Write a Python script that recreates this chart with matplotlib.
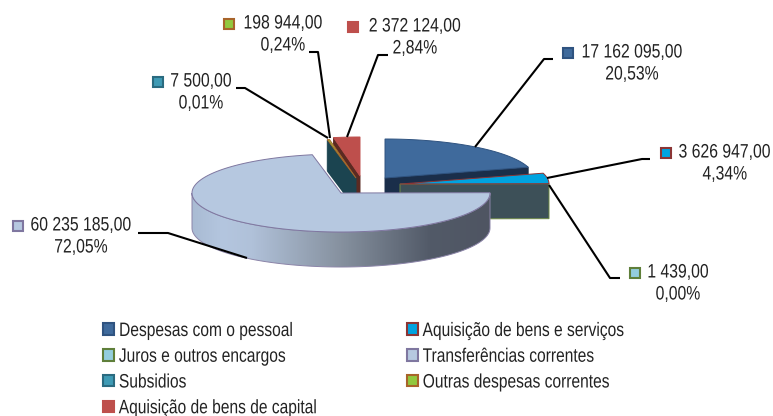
import numpy as np
import matplotlib
matplotlib.use("Agg")
import matplotlib.pyplot as plt
from matplotlib.colors import LinearSegmentedColormap
from matplotlib.patches import Patch, Polygon, Rectangle
from matplotlib.patheffects import AbstractPathEffect
from matplotlib.transforms import Affine2D

# dados do grafico
categorias = ["Despesas com o pessoal", "Aquisição de bens e serviços", "Juros e outros encargos",
              "Transferências correntes", "Subsidios", "Outras despesas correntes",
              "Aquisição de bens de capital"]
valores = [17162095, 3626947, 1439, 60235185, 7500, 198944, 2372124]
rotulos_valor = ["17 162 095,00", "3 626 947,00", "1 439,00", "60 235 185,00",
                 "7 500,00", "198 944,00", "2 372 124,00"]
rotulos_pct = ["20,53%", "4,34%", "0,00%", "72,05%", "0,01%", "0,24%", "2,84%"]

# cores
cor_face = ["#3F6A9C", "#00A3E0", "#93CDDD", "#B6C8E0", "#3F9BB5", "#92C83E", "#BE4F4C"]
cor_borda = ["#2F5380", "#8B3535", "#5F7F3A", "#7F77A0", "#2A6B80", "#A8642A", "#BE4F4C"]

# geometria da pizza
RX, RY, ALTURA = 149, 39, 35
CX, CY = 341, 193
deslocamento = [(44, -15), (59, -9), (59, -9), (0, 0), (15, -15), (15, -15), (19, -17)]

# posicoes das etiquetas (x do marcador, x do centro do texto, y da 1a linha)
pos_etiqueta = [(563, 632, 53), (661, 725, 153), (630, 678, 273), (13, 81, 226),
                (153, 201, 82), (224, 283, 24), (348, 415, 27)]
linhas_guia = [[(475, 147), (544, 59), (553, 59)],
               [(547, 178), (642, 159), (650, 159)],
               [(549, 185), (610, 278), (620, 278)],
               [(138, 233), (168, 233), (247, 258)],
               [(236, 88), (245, 88), (328, 138)],
               [(309, 52), (318, 52), (330, 138)],
               [(388, 55), (378, 55), (347, 137)]]

plt.rcParams["font.family"] = ["Liberation Sans"]

angulos = 360 * np.cumsum([0] + valores) / sum(valores)


class Estreito(AbstractPathEffect):
    # aperta o texto na horizontal, a fonte original e uma Arial Narrow
    def __init__(self, fator, ancora="centro"):
        super().__init__()
        self.fator = fator
        self.ancora = ancora

    def draw_path(self, renderer, gc, tpath, affine, rgbFace=None):
        caixa = tpath.get_extents(affine)
        x0 = {"centro": (caixa.x0 + caixa.x1) / 2, "esq": caixa.x0, "dir": caixa.x1}[self.ancora]
        novo = affine + Affine2D().translate(-x0, 0).scale(self.fator, 1).translate(x0, 0)
        renderer.draw_path(gc, tpath, novo, rgbFace)


def ponto(cx, cy, ang):
    rad = np.radians(ang)
    return cx + RX * np.sin(rad), cy - RY * np.cos(rad)


def arco(cx, cy, a0, a1):
    ang = np.linspace(a0, a1, 120)
    x, y = ponto(cx, cy, ang)
    return np.column_stack([x, y])


def topo(ax, i, z):
    cx, cy = CX + deslocamento[i][0], CY + deslocamento[i][1]
    pts = np.vstack([[(cx, cy)], arco(cx, cy, angulos[i], angulos[i + 1])])
    ax.add_patch(Polygon(pts, closed=True, facecolor=cor_face[i], edgecolor=cor_borda[i], lw=0.7, zorder=z))


def corte(ax, i, ang, cor, borda, z):
    # face lateral plana da fatia
    cx, cy = CX + deslocamento[i][0], CY + deslocamento[i][1]
    px, py = ponto(cx, cy, ang)
    pts = [(cx, cy), (px, py), (px, py + ALTURA), (cx, cy + ALTURA)]
    ax.add_patch(Polygon(pts, closed=True, facecolor=cor, edgecolor=borda, lw=0.7, zorder=z))


fig = plt.figure(figsize=(7.73, 4.16), dpi=100)
ax = fig.add_axes([0, 0, 1, 1])

# fatias de cima (atras)
corte(ax, 6, angulos[6], "#5A2A22", "#5A2A22", 1)
topo(ax, 6, 2)
corte(ax, 4, angulos[4], "#1B4450", "#1B4450", 3)
topo(ax, 5, 4)

# despesas com o pessoal
corte(ax, 0, angulos[1], "#1A2E4A", "#1A2E4A", 5)
topo(ax, 0, 6)

# aquisicao de bens e servicos + juros
corte(ax, 1, angulos[2], "#3D5058", "#6F8A45", 7)
topo(ax, 1, 8)

# parede da pizza maior com degrade
a0, a1 = angulos[3], angulos[4]
frente = arco(CX, CY, max(a0, 90), min(a1, 270))
parede = np.vstack([frente, frente[::-1] + [0, ALTURA]])
poly = Polygon(parede, closed=True, facecolor="none", edgecolor="#8B84A8", lw=0.7, zorder=10)
ax.add_patch(poly)
cmap = LinearSegmentedColormap.from_list("parede", [(0, "#A9BBD3"), (0.1, "#B4C6DF"), (0.2, "#B0C1D9"),
                                                     (0.5, "#86919F"), (0.8, "#525A68"), (1, "#4F5562")])
img = ax.imshow(np.linspace(0, 1, 256).reshape(1, -1), cmap=cmap, aspect="auto",
                extent=(CX - RX, CX + RX, CY + RY + ALTURA, CY), zorder=9)
img.set_clip_path(poly)

# topo da pizza maior, com filete branco no corte
topo(ax, 3, 11)
ex, ey = ponto(CX, CY, a1)
ax.plot([CX, ex], [CY, ey], color="white", lw=2.5, zorder=3.5)
ax.plot([CX - 2, ex - 2], [CY, ey], color="white", lw=1.5, zorder=3.5)

# linhas de chamada
for linha in linhas_guia:
    xs, ys = zip(*linha)
    ax.plot(xs, ys, color="black", lw=1.5, zorder=12, solid_capstyle="butt")

# etiquetas
for k in range(len(valores)):
    xm, xt, yt = pos_etiqueta[k]
    ax.add_patch(Rectangle((xm, yt - 5), 10, 10, facecolor=cor_face[k], edgecolor=cor_borda[k], lw=1.5, zorder=13))
    if k == 1:
        # perto da borda direita: alinha pela direita para a caixa do texto caber
        ax.text(771, yt, rotulos_valor[k], ha="right", va="center", fontsize=14, color="#222222", zorder=13,
                path_effects=[Estreito(0.81, "dir")])
    else:
        ax.text(xt, yt, rotulos_valor[k], ha="center", va="center", fontsize=14, color="#222222", zorder=13,
                path_effects=[Estreito(0.81)])
    ax.text(xt, yt + 22, rotulos_pct[k], ha="center", va="center", fontsize=14, color="#222222", zorder=13,
            path_effects=[Estreito(0.81)])

# legenda: 4 linhas na primeira coluna, 3 na segunda
ordem = [0, 2, 4, 6, 1, 3, 5]
handles = [Patch(facecolor=cor_face[k], edgecolor=cor_borda[k], lw=1.5, label=categorias[k]) for k in ordem]
leg = ax.legend(handles=handles, ncol=2, frameon=False, fontsize=14, loc="upper left",
                bbox_to_anchor=(103 / 773, 1 - 323 / 416), borderpad=0, borderaxespad=0,
                handlelength=0.55, handleheight=0.55, handletextpad=0.26, labelspacing=0.45,
                columnspacing=1.97)
for t in leg.get_texts():
    t.set_color("#222222")
    t.set_path_effects([Estreito(0.80, "esq")])

ax.set_xlim(0, 773)
ax.set_ylim(416, 0)
ax.axis("off")
fig.savefig("out.png", dpi=100)
